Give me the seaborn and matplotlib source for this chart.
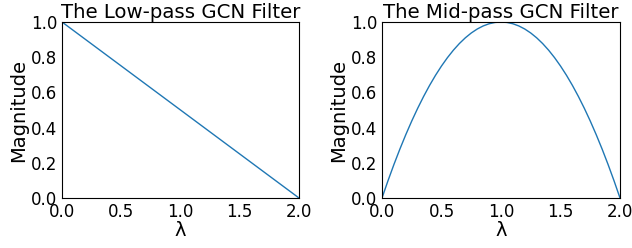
import matplotlib
matplotlib.use("Agg")
import matplotlib.pyplot as plt
import seaborn as sns
import pandas as pd

# Low-pass filter (straight line)
low_lambda = [0.0, 2.0]
low_mag = [1.0, 0.0]

# Mid-pass filter: values
mid_lambda = [0.0, 0.05, 0.1, 0.15, 0.2, 0.25, 0.3, 0.35, 0.4, 0.45, 0.5,
              0.55, 0.6, 0.65, 0.7, 0.75, 0.8, 0.85, 0.9, 0.95, 1.0,
              1.05, 1.1, 1.15, 1.2, 1.25, 1.3, 1.35, 1.4, 1.45, 1.5,
              1.55, 1.6, 1.65, 1.7, 1.75, 1.8, 1.85, 1.9, 1.95, 2.0]
mid_mag = [0.0, 0.0975, 0.19, 0.2775, 0.36, 0.4375, 0.51, 0.5775, 0.64, 0.6975, 0.75,
           0.7975, 0.84, 0.8775, 0.91, 0.9375, 0.96, 0.9775, 0.99, 0.9975, 1.0,
           0.9975, 0.99, 0.9775, 0.96, 0.9375, 0.91, 0.8775, 0.84, 0.7975, 0.75,
           0.6975, 0.64, 0.5775, 0.51, 0.4375, 0.36, 0.2775, 0.19, 0.0975, 0.0]

titles = ["The Low-pass GCN Filter", "The Mid-pass GCN Filter"]
xticks = [0.0, 0.5, 1.0, 1.5, 2.0]
yticks = [0.0, 0.2, 0.4, 0.6, 0.8, 1.0]

fig = plt.figure(figsize=(6.32, 2.48), dpi=100)
ax1 = fig.add_axes([62/632, 1-198/248, (299-62)/632, (198-22)/248])
ax2 = fig.add_axes([382/632, 1-198/248, (620-382)/632, (198-22)/248])

df_low = pd.DataFrame({"lam": low_lambda, "mag": low_mag})
df_mid = pd.DataFrame({"lam": mid_lambda, "mag": mid_mag})

for ax, df, title in [(ax1, df_low, titles[0]), (ax2, df_mid, titles[1])]:
    sns.lineplot(data=df, x="lam", y="mag", ax=ax, color="#1f77b4", linewidth=1)
    ax.set_xlim(0, 2)
    ax.set_ylim(0, 1)
    ax.set_xticks(xticks)
    ax.set_yticks(yticks)
    ax.tick_params(axis="both", length=0, pad=3.5, labelsize=12)
    ax.set_xlabel("λ", fontsize=14, labelpad=0)
    ax.set_ylabel("Magnitude", fontsize=14, labelpad=2)
    ax.set_title(title, fontsize=14.2, pad=2)

fig.savefig("out.png", dpi=100)
